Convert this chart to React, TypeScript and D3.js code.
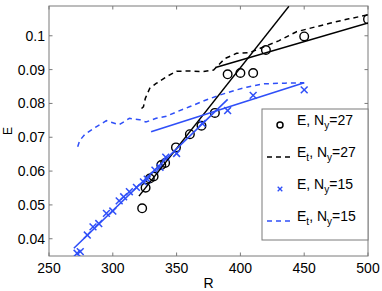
import React from "react";
import * as d3 from "d3";

// E, Ny=27 (circles)
const rE27 = [323, 325.7, 329, 332, 338, 341, 349.5, 360.4, 369.5, 380, 390, 400, 410, 420, 450, 500];
const eE27 = [0.049, 0.0551, 0.0578, 0.0584, 0.0618, 0.0624, 0.067, 0.0709, 0.0734, 0.0772, 0.0886, 0.089, 0.089, 0.0958, 0.0998, 0.1049];

// Et, Ny=27 (dashed)
const rEt27 = [322.5, 324, 325.5, 329, 334, 342, 350, 360, 371, 379, 384, 388, 397, 407, 418, 430, 444, 470, 485, 500];
const eEt27 = [0.0785, 0.079, 0.0815, 0.0845, 0.0859, 0.0879, 0.0895, 0.0896, 0.0894, 0.0899, 0.0918, 0.0933, 0.0948, 0.095, 0.0967, 0.0985, 0.1012, 0.1037, 0.105, 0.1062];

// E, Ny=15 (crosses)
const rE15 = [272, 274.5, 280, 284.5, 289, 295, 300, 305, 308.5, 313, 318.5, 324, 327, 333, 337, 341.5, 350, 370, 390, 410, 450];
const eE15 = [0.0357, 0.0362, 0.0411, 0.0435, 0.0445, 0.0475, 0.0482, 0.0512, 0.0524, 0.0539, 0.0552, 0.0568, 0.0576, 0.0603, 0.0611, 0.0641, 0.0652, 0.0741, 0.0779, 0.0824, 0.084];

// Et, Ny=15 (dashed)
const rEt15 = [272.5, 274, 278, 287, 295, 300, 305, 313, 321, 326, 334, 342, 350, 360, 373, 384, 395, 405, 418, 435, 450];
const eEt15 = [0.0672, 0.069, 0.0708, 0.0731, 0.0749, 0.0743, 0.0737, 0.0756, 0.0752, 0.0745, 0.0756, 0.0762, 0.0775, 0.079, 0.081, 0.0825, 0.0838, 0.0848, 0.0858, 0.086, 0.0861];

// linear fits (end points)
const fitSteep27 = [[320.5, 0.0526], [438, 0.1087]];
const fitFlat27 = [[380.5, 0.0906], [500, 0.1038]];
const fitSteep15 = [[269.5, 0.0372], [390, 0.0812]];
const fitFlat15 = [[330, 0.0716], [450, 0.0861]];

const xTicks = [250, 300, 350, 400, 450, 500];
const yTicks = [0.04, 0.05, 0.06, 0.07, 0.08, 0.09, 0.1];

const BLUE = "#2f4ff8";
const AXIS = "#7a7a7a";
const FONT = "'Liberation Sans', Arial, sans-serif";

export default function App() {
  const W = 382, H = 291;
  const left = 49, right = 368, top = 6, bottom = 256;

  const x = d3.scaleLinear().domain([250, 500]).range([left, right]);
  const y = d3.scaleLinear().domain([0.0349, 0.1088]).range([bottom, top]);

  const line = d3
    .line<number[]>()
    .x((d) => x(d[0]))
    .y((d) => y(d[1]));

  const zip = (a: number[], b: number[]) => a.map((v, i) => [v, b[i]]);

  const legendRows = [
    { kind: "circle", main: "E", sub: "", n: "27" },
    { kind: "dash", main: "E", sub: "t", n: "27", color: "#000" },
    { kind: "cross", main: "E", sub: "", n: "15" },
    { kind: "dash", main: "E", sub: "t", n: "15", color: BLUE },
  ];

  const cross = (cx: number, cy: number, s: number, key: any, color: string, w: number) => (
    <g key={key} stroke={color} strokeWidth={w}>
      <line x1={cx - s} y1={cy - s} x2={cx + s} y2={cy + s} />
      <line x1={cx - s} y1={cy + s} x2={cx + s} y2={cy - s} />
    </g>
  );

  return (
    <svg
      width={W}
      height={H}
      style={{ position: "absolute", left: 0, top: 0, background: "#fff" }}
      fontFamily={FONT}
    >
      <defs>
        <clipPath id="plot">
          <rect x={left} y={top} width={right - left} height={bottom - top} />
        </clipPath>
      </defs>

      {/* axes box + ticks */}
      <rect x={left} y={top} width={right - left} height={bottom - top} fill="none" stroke={AXIS} strokeWidth={1} />
      {xTicks.map((t) => (
        <g key={"xt" + t} stroke={AXIS}>
          <line x1={x(t)} x2={x(t)} y1={bottom} y2={bottom - 3.5} />
          <line x1={x(t)} x2={x(t)} y1={top} y2={top + 3.5} />
        </g>
      ))}
      {yTicks.map((t) => (
        <g key={"yt" + t} stroke={AXIS}>
          <line x1={left} x2={left + 3.5} y1={y(t)} y2={y(t)} />
          <line x1={right} x2={right - 3.5} y1={y(t)} y2={y(t)} />
        </g>
      ))}
      {xTicks.map((t) => (
        <text key={"xl" + t} x={x(t)} y={273} fontSize={14} textAnchor="middle" fill="#000">
          {t}
        </text>
      ))}
      {yTicks.map((t) => (
        <text key={"yl" + t} x={left - 4} y={y(t) + 5} fontSize={14} textAnchor="end" fill="#000">
          {d3.format("~g")(t)}
        </text>
      ))}
      <text x={(left + right) / 2} y={288} fontSize={14} textAnchor="middle">R</text>
      <text transform={`translate(11.5,${(top + bottom) / 2}) rotate(-90)`} fontSize={12} textAnchor="middle">E</text>

      <g clipPath="url(#plot)" fill="none">
        {/* Ny=27 */}
        {zip(rE27, eE27).map((d, i) => (
          <circle key={"c" + i} cx={x(d[0])} cy={y(d[1])} r={4.3} stroke="#000" strokeWidth={1.4} />
        ))}
        <path d={line(zip(rEt27, eEt27)) || ""} stroke="#000" strokeWidth={1.5} strokeDasharray="5,4" />
        {/* Ny=15 */}
        {zip(rE15, eE15).map((d, i) => cross(x(d[0]), y(d[1]), 3.4, "x" + i, BLUE, 1.5))}
        <path d={line(zip(rEt15, eEt15)) || ""} stroke={BLUE} strokeWidth={1.5} strokeDasharray="5,4" />
        {/* fits */}
        <path d={line(fitSteep27) || ""} stroke="#000" strokeWidth={1.5} />
        <path d={line(fitFlat27) || ""} stroke="#000" strokeWidth={1.5} />
        <path d={line(fitSteep15) || ""} stroke={BLUE} strokeWidth={1.6} />
        <path d={line(fitFlat15) || ""} stroke={BLUE} strokeWidth={1.6} />
      </g>

      {/* legend */}
      <g>
        <rect x={262} y={109} width={right - 262} height={131} fill="#fff" stroke={AXIS} strokeWidth={1} />
        {legendRows.map((r, i) => {
          const ry = 125 + i * 32;
          return (
            <g key={"lg" + i}>
              {r.kind === "circle" && <circle cx={280} cy={ry} r={3} fill="none" stroke="#000" strokeWidth={1.5} />}
              {r.kind === "cross" && cross(280, ry, 2.3, "lx", BLUE, 1.3)}
              {r.kind === "dash" && (
                <line x1={267} x2={293} y1={ry} y2={ry} stroke={r.color} strokeWidth={1.5} strokeDasharray="5,4" />
              )}
              <text x={297} y={ry} fontSize={14} fill="#000">
                <tspan>{r.main}</tspan>
                {r.sub && (
                  <tspan fontSize={10} dy={4}>
                    {r.sub}
                  </tspan>
                )}
                <tspan dy={r.sub ? -4 : 0}>, N</tspan>
                <tspan fontSize={10} dy={4}>y</tspan>
                <tspan dy={-4}>={r.n}</tspan>
              </text>
            </g>
          );
        })}
      </g>
    </svg>
  );
}
